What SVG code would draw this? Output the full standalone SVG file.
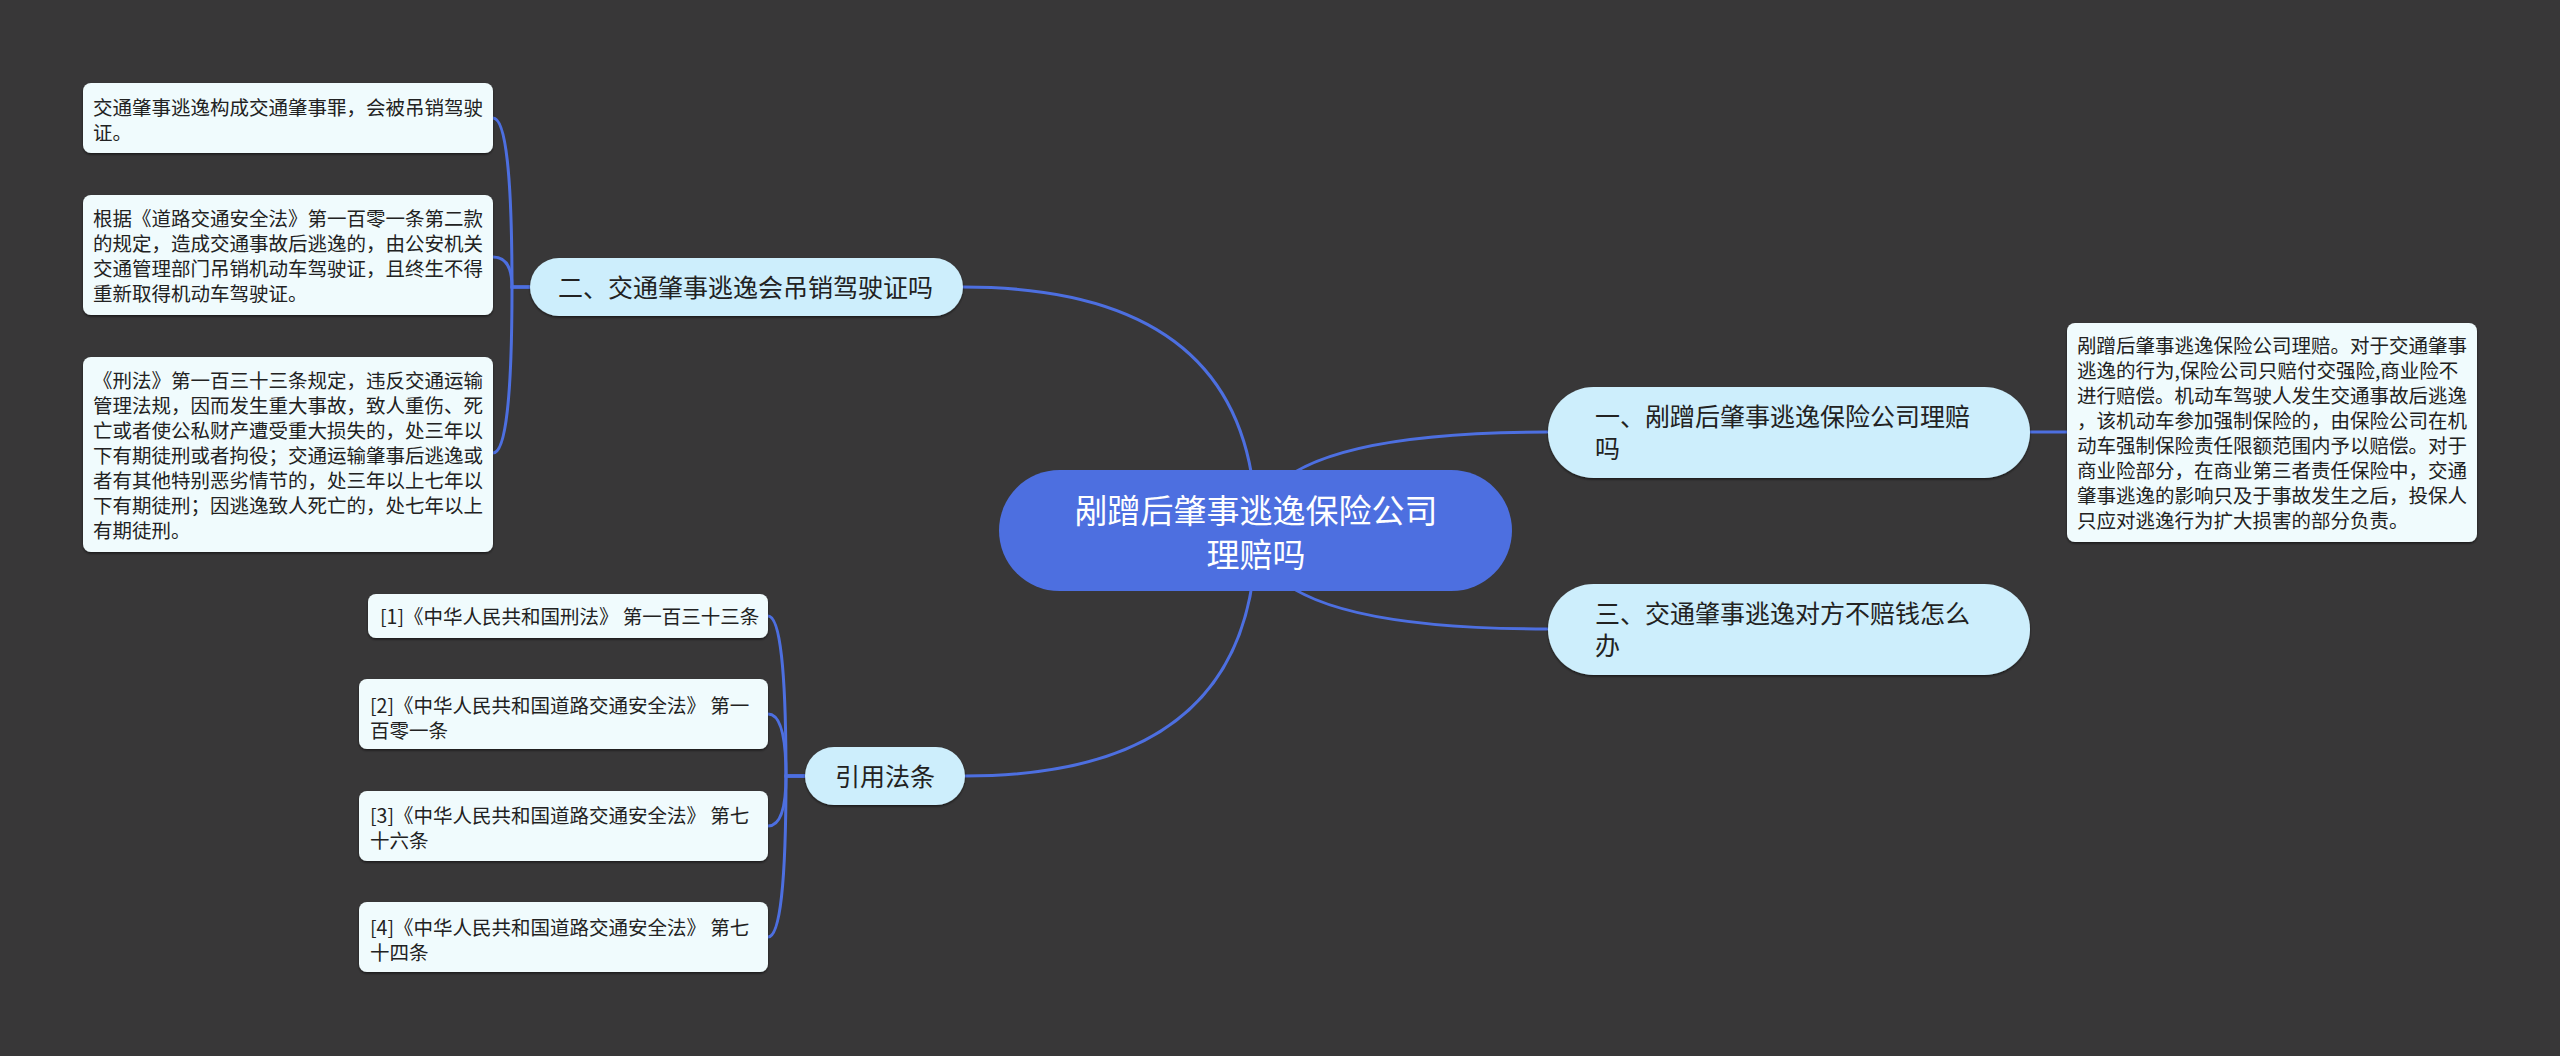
<svg xmlns="http://www.w3.org/2000/svg" width="2560" height="1056" viewBox="0 0 2560 1056">
<style>
text{font-family:"Noto Sans CJK SC","Noto Sans",sans-serif;fill:#222;}
.conn{fill:none;stroke:#4d6fe0;stroke-width:3;stroke-linecap:round;}
.root{fill:#4d6fe0;}
.roott{fill:#ffffff;font-size:33px;text-anchor:middle;}
.main{fill:#cdeefc;filter:url(#sh);}
.maint{font-size:25px;}
.leaf{fill:#f0fbfd;filter:url(#sh);}
.leaft{font-size:19.5px;}
</style>
<defs>
<filter id="sh" x="-5%" y="-10%" width="110%" height="130%">
<feDropShadow dx="0" dy="1.5" stdDeviation="1" flood-color="#000" flood-opacity="0.55"/>
</filter>
</defs>
<rect width="2560" height="1056" fill="#383738"/>
<g id="connectors">
<path class="conn" d="M1256 531 Q1256 287 963 287"/>
<path class="conn" d="M1256 531 Q1256 432 1548 432"/>
<path class="conn" d="M1256 531 Q1256 629 1548 629"/>
<path class="conn" d="M1256 531 Q1256 776 965 776"/>
<path class="conn" d="M530 287 H512 Q512 118 493 118"/>
<path class="conn" d="M530 287 H512 Q512 257 493 257"/>
<path class="conn" d="M530 287 H512 Q512 453 493 453"/>
<path class="conn" d="M2030 432 H2067"/>
<path class="conn" d="M805 776 H786 Q786 616 768 616"/>
<path class="conn" d="M805 776 H786 Q786 714 768 714"/>
<path class="conn" d="M805 776 H786 Q786 826 768 826"/>
<path class="conn" d="M805 776 H786 Q786 937 768 937"/>
</g>
<g id="root">
<rect class="root" x="999" y="470" width="513" height="121" rx="60.5"/>
<text class="roott" x="1256" y="523">剐蹭后肇事逃逸保险公司</text>
<text class="roott" x="1256" y="567">理赔吗</text>
</g>
<g id="n2">
<rect class="main" x="530" y="258" width="433" height="58" rx="29"/>
<text class="maint" x="558" y="296.5">二、交通肇事逃逸会吊销驾驶证吗</text>
</g>
<g id="n1">
<rect class="main" x="1548" y="387" width="482" height="91" rx="45.5"/>
<text class="maint" x="1595" y="425.5">一、剐蹭后肇事逃逸保险公司理赔</text>
<text class="maint" x="1595" y="457.5">吗</text>
</g>
<g id="n3">
<rect class="main" x="1548" y="584" width="482" height="91" rx="45.5"/>
<text class="maint" x="1595" y="622.5">三、交通肇事逃逸对方不赔钱怎么</text>
<text class="maint" x="1595" y="654.5">办</text>
</g>
<g id="nref">
<rect class="main" x="805" y="747" width="160" height="58" rx="29"/>
<text class="maint" x="885" y="785.5" text-anchor="middle">引用法条</text>
</g>
<g id="leaf1">
<rect class="leaf" x="83" y="83" width="410" height="70" rx="8"/>
<text class="leaft" x="93" y="114.5">交通肇事逃逸构成交通肇事罪，会被吊销驾驶</text>
<text class="leaft" x="93" y="139.5">证。</text>
</g>
<g id="leaf2">
<rect class="leaf" x="83" y="195" width="410" height="120" rx="8"/>
<text class="leaft" x="93" y="225.5">根据《道路交通安全法》第一百零一条第二款</text>
<text class="leaft" x="93" y="250.5">的规定，造成交通事故后逃逸的，由公安机关</text>
<text class="leaft" x="93" y="275.5">交通管理部门吊销机动车驾驶证，且终生不得</text>
<text class="leaft" x="93" y="300.5">重新取得机动车驾驶证。</text>
</g>
<g id="leaf3">
<rect class="leaf" x="83" y="357" width="410" height="195" rx="8"/>
<text class="leaft" x="93" y="387.5">《刑法》第一百三十三条规定，违反交通运输</text>
<text class="leaft" x="93" y="412.5">管理法规，因而发生重大事故，致人重伤、死</text>
<text class="leaft" x="93" y="437.5">亡或者使公私财产遭受重大损失的，处三年以</text>
<text class="leaft" x="93" y="462.5">下有期徒刑或者拘役；交通运输肇事后逃逸或</text>
<text class="leaft" x="93" y="487.5">者有其他特别恶劣情节的，处三年以上七年以</text>
<text class="leaft" x="93" y="512.5">下有期徒刑；因逃逸致人死亡的，处七年以上</text>
<text class="leaft" x="93" y="537.5">有期徒刑。</text>
</g>
<g id="leafR">
<rect class="leaf" x="2067" y="323" width="410" height="219" rx="8"/>
<text class="leaft" x="2077" y="352.5">剐蹭后肇事逃逸保险公司理赔。对于交通肇事</text>
<text class="leaft" x="2077" y="377.5">逃逸的行为,保险公司只赔付交强险,商业险不</text>
<text class="leaft" x="2077" y="402.5">进行赔偿。机动车驾驶人发生交通事故后逃逸</text>
<text class="leaft" x="2077" y="427.5">，该机动车参加强制保险的，由保险公司在机</text>
<text class="leaft" x="2077" y="452.5">动车强制保险责任限额范围内予以赔偿。对于</text>
<text class="leaft" x="2077" y="477.5">商业险部分，在商业第三者责任保险中，交通</text>
<text class="leaft" x="2077" y="502.5">肇事逃逸的影响只及于事故发生之后，投保人</text>
<text class="leaft" x="2077" y="527.5">只应对逃逸行为扩大损害的部分负责。</text>
</g>
<g id="ref1">
<rect class="leaf" x="368" y="594" width="400" height="44" rx="8"/>
<text class="leaft" x="380" y="623.5">[1]《中华人民共和国刑法》 第一百三十三条</text>
</g>
<g id="ref2">
<rect class="leaf" x="359" y="679" width="409" height="70" rx="8"/>
<text class="leaft" x="370" y="712.5">[2]《中华人民共和国道路交通安全法》 第一</text>
<text class="leaft" x="370" y="737.5">百零一条</text>
</g>
<g id="ref3">
<rect class="leaf" x="359" y="791" width="409" height="70" rx="8"/>
<text class="leaft" x="370" y="822.5">[3]《中华人民共和国道路交通安全法》 第七</text>
<text class="leaft" x="370" y="847.5">十六条</text>
</g>
<g id="ref4">
<rect class="leaf" x="359" y="902" width="409" height="70" rx="8"/>
<text class="leaft" x="370" y="934.5">[4]《中华人民共和国道路交通安全法》 第七</text>
<text class="leaft" x="370" y="959.5">十四条</text>
</g>
</svg>
